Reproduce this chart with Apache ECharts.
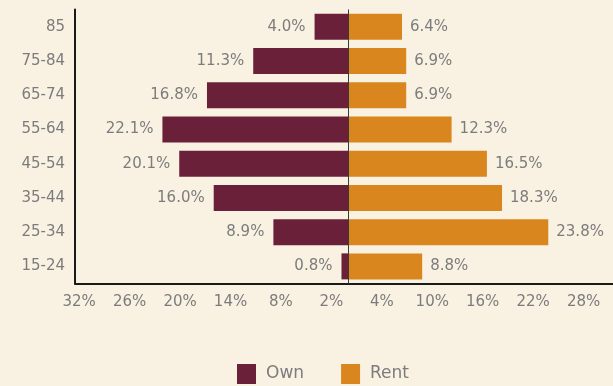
<!DOCTYPE html>
<html>
<head>
<meta charset="utf-8">
<script src="https://cdn.jsdelivr.net/npm/echarts@6/dist/echarts.min.js"></script>
<style>
  html, body { margin: 0; padding: 0; background: #f9f2e3; }
  #chart { width: 613px; height: 386px; }
</style>
</head>
<body>
<div id="chart"></div>
<script>
// Age groups, bottom to top
const ageGroups = ['15-24', '25-34', '35-44', '45-54', '55-64', '65-74', '75-84', '85'];
// Share of households by age group (%)
const ownShare = [0.8, 8.9, 16.0, 20.1, 22.1, 16.8, 11.3, 4.0];
const rentShare = [8.8, 23.8, 18.3, 16.5, 12.3, 6.9, 6.9, 6.4];
// Tick positions on the shared percentage axis (owners drawn to the left)
const tickValues = [-32, -26, -20, -14, -8, -2, 4, 10, 16, 22, 28];

const FONT = 'DejaVu Sans';
const TEXT = '#7c7c7c';

const chart = echarts.init(document.getElementById('chart'));
const pct = v => Math.abs(v).toFixed(1) + '%';

chart.setOption({
  backgroundColor: '#f9f2e3',
  animation: false,
  grid: { left: 75, right: 0, top: 9.5, bottom: 102.5, containLabel: false },
  xAxis: {
    type: 'value',
    min: -32.5,
    max: 31.5,
    splitLine: { show: false },
    axisTick: { show: false },
    axisLine: { show: true, lineStyle: { color: '#1a1a1a', width: 2 } },
    axisLabel: {
      customValues: tickValues,
      formatter: v => Math.abs(v) + '%',
      color: TEXT, fontFamily: FONT, fontSize: 15, margin: 11
    }
  },
  yAxis: {
    type: 'category',
    data: ageGroups,
    axisTick: { show: false },
    axisLine: { show: true, onZero: false, lineStyle: { color: '#1a1a1a', width: 2 } },
    axisLabel: { color: TEXT, fontFamily: FONT, fontSize: 15, margin: 10 }
  },
  legend: {
    data: ['Own', 'Rent'],
    left: 232,
    top: 359,
    icon: 'rect',
    itemWidth: 19,
    itemHeight: 20,
    itemGap: 37,
    textStyle: { color: TEXT, fontFamily: FONT, fontSize: 17, padding: [0, 0, 0, 5] }
  },
  series: [
    {
      name: 'Own',
      type: 'bar',
      data: ownShare.map(v => -v),
      barWidth: 26,
      barGap: '-100%',
      itemStyle: { color: '#6b203a' },
      label: {
        show: true, position: 'left', distance: 9,
        formatter: p => pct(p.value),
        color: TEXT, fontFamily: FONT, fontSize: 15
      },
      markLine: {
        silent: true,
        symbol: 'none',
        label: { show: false },
        lineStyle: { color: '#3a3a3a', width: 1, type: 'solid' },
        data: [{ xAxis: 0 }]
      }
    },
    {
      name: 'Rent',
      type: 'bar',
      data: rentShare,
      barWidth: 26,
      barGap: '-100%',
      itemStyle: { color: '#d8861d' },
      label: {
        show: true, position: 'right', distance: 8,
        formatter: p => pct(p.value),
        color: TEXT, fontFamily: FONT, fontSize: 15
      }
    }
  ]
});
</script>
</body>
</html>
